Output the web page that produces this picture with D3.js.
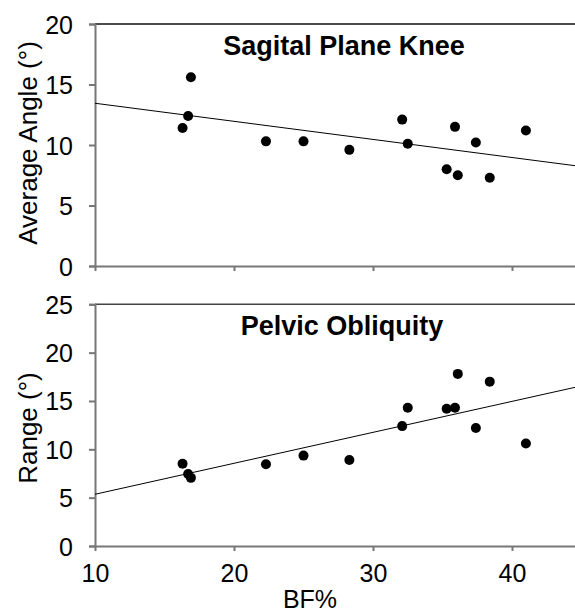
<!DOCTYPE html>
<html>
<head>
<meta charset="utf-8">
<script src="https://cdnjs.cloudflare.com/ajax/libs/d3/7.8.5/d3.min.js"></script>
<style>
    body { margin: 0; background: #fff; }
    svg { display: block; font-family: Arial, "Liberation Sans", sans-serif; }
</style>
</head>
<body>
<div class="graph"></div>
<script>
// body fat % for each subject (same subjects in both panels)
let bf = [16.3, 16.7, 16.9, 22.3, 25.0, 28.3, 32.1, 32.5, 35.3, 35.9, 36.1, 37.4, 38.4, 41.0]

// sagital plane knee, average angle (deg)
let kneeAngle = [11.4, 12.4, 15.6, 10.3, 10.3, 9.6, 12.1, 10.1, 8.0, 11.5, 7.5, 10.2, 7.3, 11.2]

// pelvic obliquity, range (deg)
let pelvicRange = [8.5, 7.45, 7.05, 8.45, 9.35, 8.9, 12.4, 14.3, 14.2, 14.3, 17.8, 12.2, 17.0, 10.6]

// fitted lines, value at x = 10 and x = 45
let trendX = [10, 45]
let kneeTrend = [13.45, 8.22]
let pelvicTrend = [5.35, 16.56]

let xTicks = [10, 20, 30, 40]
let kneeTicks = [0, 5, 10, 15, 20]
let pelvicTicks = [0, 5, 10, 15, 20, 25]

let width = 575
let height = 614

let svg = d3.select('.graph').append('svg')
    .attr("width", width)
    .attr("height", height)

let x = d3.scaleLinear()
    .domain([10, 45])
    .range([95, 581.5])

let axisGray = "#777"

function panel(opts) {
    let y = d3.scaleLinear()
        .domain(opts.domain)
        .range([opts.bottom, opts.top])

    let g = svg.append("g")

    // top frame line
    g.append("line")
        .attr("x1", x(10)).attr("x2", width)
        .attr("y1", opts.top).attr("y2", opts.top)
        .attr("stroke", opts.frame)
        .attr("stroke-width", 1.5)

    // y axis
    let yAxis = g.append("g")
        .attr("transform", "translate(" + x(10) + ",0)")
        .call(d3.axisLeft(y).tickValues(opts.ticks).tickSize(6).tickPadding(16))
    yAxis.select(".domain").attr("stroke", axisGray).attr("stroke-width", 2)
    yAxis.selectAll(".tick line").attr("stroke", axisGray).attr("stroke-width", 2)
    yAxis.selectAll("text")
        .attr("fill", "#000")
        .style("font-size", "25px")
        .attr("dy", "0.36em")

    // x axis
    let xAxis = g.append("g")
        .attr("transform", "translate(0," + opts.bottom + ")")
        .call(d3.axisBottom(x).tickValues(xTicks).tickSize(5).tickPadding(8).tickSizeOuter(0))
    xAxis.select(".domain").attr("stroke", axisGray).attr("stroke-width", 2)
    xAxis.selectAll(".tick line").attr("stroke", axisGray).attr("stroke-width", 2)
    xAxis.selectAll("text")
        .attr("fill", "#000")
        .style("font-size", "25px")
        .attr("dy", "0.9em")
        .style("display", opts.xLabels ? null : "none")

    // regression line
    let line = d3.line()
        .x(function(d) { return x(d[0]) })
        .y(function(d) { return y(d[1]) })
    g.append("path")
        .data([trendX.map(function(v, i) { return [v, opts.trend[i]] })])
        .attr("d", line)
        .attr("stroke", "#000")
        .attr("stroke-width", 1)
        .attr("fill", "none")

    // points
    g.selectAll("circle")
        .data(bf.map(function(v, i) { return [v, opts.values[i]] }))
        .enter().append("circle")
        .attr("cx", function(d) { return x(d[0]) })
        .attr("cy", function(d) { return y(d[1]) })
        .attr("r", 5)
        .attr("fill", "#000")

    // title inside plot
    g.append("text")
        .attr("x", opts.titleX)
        .attr("y", opts.titleY)
        .attr("text-anchor", "middle")
        .style("font-size", "27px")
        .style("font-weight", "bold")
        .text(opts.title)

    // y label
    g.append("text")
        .attr("transform", "translate(37," + opts.labelY + ") rotate(-90)")
        .attr("text-anchor", "middle")
        .style("font-size", "26px")
        .text(opts.label)
}

panel({
    domain: [0, 20], ticks: kneeTicks, top: 24, bottom: 266,
    values: kneeAngle, trend: kneeTrend, frame: "#111",
    title: "Sagital Plane Knee", titleX: 344, titleY: 55,
    label: "Average Angle (°)", labelY: 143, xLabels: false
})

panel({
    domain: [0, 25], ticks: pelvicTicks, top: 304.3, bottom: 546,
    values: pelvicRange, trend: pelvicTrend, frame: "#444",
    title: "Pelvic Obliquity", titleX: 342, titleY: 335,
    label: "Range (°)", labelY: 428, xLabels: true
})

// x axis title
svg.append("text")
    .attr("x", 310)
    .attr("y", 608)
    .attr("text-anchor", "middle")
    .style("font-size", "25px")
    .text("BF%")
</script>
</body>
</html>
